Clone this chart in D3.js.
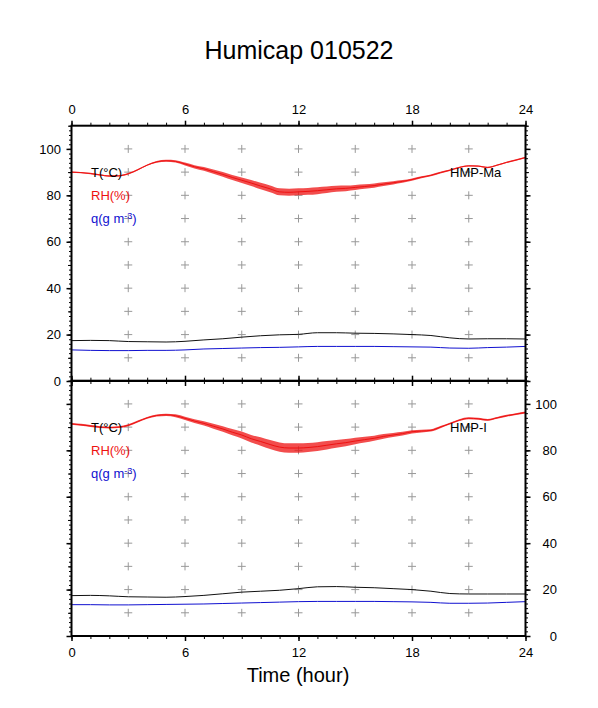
<!DOCTYPE html>
<html>
<head>
<meta charset="utf-8">
<script src="https://cdn.jsdelivr.net/npm/d3@7"></script>
<style>
  html, body { margin: 0; padding: 0; background: #fff; }
  svg { display: block; font-family: "Liberation Sans", Arial, Helvetica, sans-serif; }
</style>
</head>
<body>
<svg id="chart" width="598" height="708"></svg>
<script>
// ---------------- data ----------------
const title = "Humicap 010522";
const xLabel = "Time (hour)";
const panelNames = ["HMP-Ma", "HMP-I"];
const xTickLabels = [0, 6, 12, 18, 24];
const yTickLabels = [0, 20, 40, 60, 80, 100];

// half-hourly relative humidity (%)
const rhHours = [0,0.5,1,1.5,2,2.5,3,3.5,4,4.5,5,5.5,6,6.5,7,7.5,8,8.5,9,9.5,10,10.5,11,11.5,12,
  12.5,13,13.5,14,14.5,15,15.5,16,16.5,17,17.5,18,18.5,19,19.5,20,20.5,21,21.5,22,22.5,23,23.5,24];
const rhTop = [90.0,89.8,89.4,88.8,88.3,88.4,89.3,91.0,93.0,94.4,94.9,94.6,93.5,92.3,91.4,90.2,89.0,87.7,86.5,85.3,84.0,82.8,81.5,81.3,81.5,
  81.7,82.0,82.4,82.8,83.0,83.4,83.8,84.2,84.8,85.4,86.0,86.8,87.8,88.6,89.8,90.8,92.0,92.7,92.6,92.0,93.0,94.2,95.2,96.3];
const rhBottom = [91.4,91.0,90.5,90.0,89.8,90.0,90.8,92.4,94.0,95.0,95.3,94.9,93.8,92.6,91.6,90.4,89.2,87.8,86.6,85.0,83.8,82.5,81.4,81.0,81.0,
  81.2,81.6,82.2,82.8,83.3,84.0,84.6,85.2,86.0,86.6,87.2,88.0,88.3,88.6,90.0,91.5,93.0,93.8,93.6,93.1,94.0,94.9,95.6,96.3];

// hourly values
const hours = [0,1,2,3,4,5,6,7,8,9,10,11,12,13,14,15,16,17,18,19,20,21,22,23,24];
// half-width of the noisy RH scatter band (%)
const rhSpreadTop = [0.3,0.3,0.3,0.3,0.3,0.4,0.6,0.8,1.0,1.2,1.4,1.5,1.5,1.5,1.3,1.1,0.9,0.7,0.5,0.4,0.3,0.3,0.3,0.3,0.3];
const rhSpreadBottom = [0.4,0.4,0.4,0.4,0.4,0.5,0.7,0.9,1.2,1.5,1.8,2.0,2.0,1.9,1.7,1.4,1.1,0.9,0.7,0.5,0.4,0.4,0.4,0.4,0.4];
const tTop = [17.4,17.5,17.4,17.0,16.9,16.8,17.1,17.7,18.2,18.9,19.5,19.9,20.1,20.8,20.8,20.6,20.5,20.3,20.0,19.6,18.6,18.1,18.2,18.2,18.1];
const qTop = [13.4,13.2,13.1,13.1,13.2,13.2,13.4,13.8,14.0,14.2,14.4,14.5,14.7,14.9,14.9,14.9,14.9,14.8,14.7,14.6,14.2,14.1,14.4,14.6,14.9];
const tBottom = [17.4,17.5,17.3,16.9,16.8,16.7,17.0,17.5,18.2,18.9,19.3,19.7,20.4,21.2,21.3,21.0,20.8,20.4,20.0,19.3,18.3,18.1,18.1,18.1,18.1];
const qBottom = [13.5,13.5,13.4,13.4,13.5,13.6,13.7,13.8,14.0,14.2,14.4,14.6,14.8,14.9,14.9,14.9,14.9,14.8,14.7,14.5,14.1,14.1,14.2,14.5,14.8];

// ---------------- drawing ----------------
const svg = d3.select("#chart");
const X0 = 71.5, X1 = 525.5;
const x = d3.scaleLinear().domain([0, 24]).range([X0, X1]);
const panels = [
  { top: 125.7, bottom: 381, rh: rhTop, spread: rhSpreadTop, t: tTop, q: qTop, name: panelNames[0], labelSide: "left", xLabelSide: "top" },
  { top: 380.7, bottom: 636, rh: rhBottom, spread: rhSpreadBottom, t: tBottom, q: qBottom, name: panelNames[1], labelSide: "right", xLabelSide: "bottom" }
];
const FS = 13;
const BLUE = "#1010d0", RED = "#ee1111";

svg.append("text").attr("x", 299).attr("y", 59).attr("text-anchor", "middle")
  .attr("font-size", 25).text(title);

function styleAxis(g, width) {
  g.selectAll(".domain").remove();
  g.selectAll(".tick line").attr("stroke", "#000").attr("stroke-width", width);
  g.selectAll("text").attr("font-size", FS).attr("fill", "#000")
    .attr("font-family", "Liberation Sans, Arial, sans-serif");
}

panels.forEach((p, pi) => {
  const y = d3.scaleLinear().domain([0, 110]).range([p.bottom, p.top]);
  const g = svg.append("g");

  // grid crosses
  const gx = d3.range(3, 24, 3), gy = d3.range(10, 110, 10);
  const cross = g.append("g").attr("stroke", "#999").attr("stroke-width", 1);
  gx.forEach(h => gy.forEach(v => {
    cross.append("line").attr("x1", x(h) - 4).attr("x2", x(h) + 4).attr("y1", y(v)).attr("y2", y(v));
    cross.append("line").attr("x1", x(h)).attr("x2", x(h)).attr("y1", y(v) - 4).attr("y2", y(v) + 4);
  }));

  // RH scatter band + line
  const bandData = rhHours.map((h, i) => {
    const s = d3.interpolateNumber(p.spread[Math.floor(h)], p.spread[Math.min(24, Math.ceil(h))])(h - Math.floor(h));
    return { h, v: p.rh[i], s };
  });
  g.append("path").datum(bandData)
    .attr("d", d3.area().x(d => x(d.h)).y0(d => y(d.v - d.s)).y1(d => y(d.v + d.s)).curve(d3.curveMonotoneX))
    .attr("fill", RED).attr("fill-opacity", 0.75).attr("stroke", "none");
  g.append("path").datum(bandData)
    .attr("d", d3.line().x(d => x(d.h)).y(d => y(d.v)).curve(d3.curveMonotoneX))
    .attr("fill", "none").attr("stroke", RED).attr("stroke-width", 1);

  // T and q lines
  g.append("path").datum(hours.map((h, i) => [h, p.t[i]]))
    .attr("d", d3.line().x(d => x(d[0])).y(d => y(d[1])).curve(d3.curveMonotoneX))
    .attr("fill", "none").attr("stroke", "#111").attr("stroke-width", 1);
  g.append("path").datum(hours.map((h, i) => [h, p.q[i]]))
    .attr("d", d3.line().x(d => x(d[0])).y(d => y(d[1])).curve(d3.curveMonotoneX))
    .attr("fill", "none").attr("stroke", BLUE).attr("stroke-width", 1);

  // axes: ticks outward on all sides
  const sides = [
    { gen: d3.axisTop, pos: `translate(0,${p.top})`, scale: x, kind: "x", labels: p.xLabelSide === "top" },
    { gen: d3.axisBottom, pos: `translate(0,${p.bottom})`, scale: x, kind: "x", labels: p.xLabelSide === "bottom" },
    { gen: d3.axisLeft, pos: `translate(${X0},0)`, scale: y, kind: "y", labels: p.labelSide === "left" },
    { gen: d3.axisRight, pos: `translate(${X1},0)`, scale: y, kind: "y", labels: p.labelSide === "right" }
  ];
  sides.forEach(s => {
    if (s.kind === "x") {
      const minor = g.append("g").attr("transform", s.pos)
        .call(s.gen(s.scale).tickValues(d3.range(0, 25, 1)).tickSize(3).tickFormat(""));
      styleAxis(minor, 1);
      const major = g.append("g").attr("transform", s.pos)
        .call(s.gen(s.scale).tickValues(xTickLabels).tickSize(5).tickPadding(7)
          .tickFormat(s.labels ? d3.format("d") : ""));
      styleAxis(major, 1.5);
    } else {
      const minor = g.append("g").attr("transform", s.pos)
        .call(s.gen(s.scale).tickValues(d3.range(0, 111, 2)).tickSize(2.5).tickFormat(""));
      styleAxis(minor, 1);
      const mid = g.append("g").attr("transform", s.pos)
        .call(s.gen(s.scale).tickValues(d3.range(0, 111, 10)).tickSize(3.5).tickFormat(""));
      styleAxis(mid, 1);
      const major = g.append("g").attr("transform", s.pos)
        .call(s.gen(s.scale).tickValues(yTickLabels).tickSize(5).tickPadding(5)
          .tickFormat(s.labels ? d3.format("d") : ""));
      styleAxis(major, 1.5);
      if (s.labels && s.gen === d3.axisRight) {
        major.selectAll("text").attr("text-anchor", "end").attr("x", 557 - X1);
      }
      if (s.labels && s.gen === d3.axisLeft) {
        major.selectAll("text").attr("x", 61 - X0);
      }
    }
  });

  // frame
  g.append("rect").attr("x", X0).attr("y", p.top).attr("width", X1 - X0).attr("height", p.bottom - p.top)
    .attr("fill", "none").attr("stroke", "#000").attr("stroke-width", 2);

  // legend texts
  const ly = y(90) + 5;
  g.append("text").attr("x", 91).attr("y", ly).attr("font-size", FS).attr("fill", "#000").text("T(°C)");
  g.append("text").attr("x", 91).attr("y", ly + 23).attr("font-size", FS).attr("fill", RED).text("RH(%)");
  const qt = g.append("text").attr("x", 91).attr("y", ly + 46).attr("font-size", FS).attr("fill", BLUE);
  qt.append("tspan").text("q(g m");
  qt.append("tspan").attr("font-size", 9).attr("dy", -4).text("-3");
  qt.append("tspan").attr("dy", 4).text(")");
  g.append("text").attr("x", 450).attr("y", ly).attr("font-size", FS).attr("fill", "#000").text(p.name);
});

svg.append("text").attr("x", 298).attr("y", 682).attr("text-anchor", "middle")
  .attr("font-size", 20).text(xLabel);
</script>
</body>
</html>
